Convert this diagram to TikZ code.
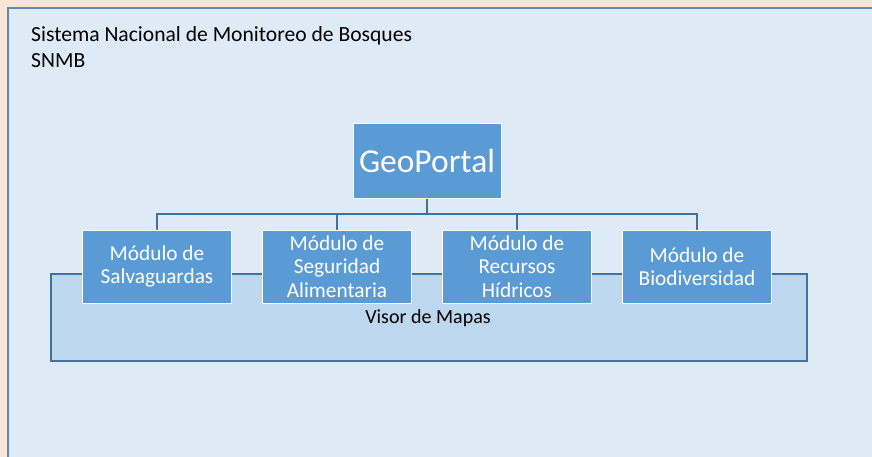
\documentclass[tikz,border=0pt]{standalone}
\usepackage{fontspec}
\setmainfont{Carlito}
\usepackage{tikz}
\usetikzlibrary{trees}
\definecolor{durazno}{HTML}{FBE5D6}
\definecolor{fondo}{HTML}{DEEBF7}
\definecolor{borde}{HTML}{5A89C2}
\definecolor{caja}{HTML}{5B9BD5}
\definecolor{visorfill}{HTML}{BDD7EE}
\definecolor{linea}{HTML}{41719C}
\tikzstyle{modulo}=[draw=white,line width=1pt,fill=caja,text=white,minimum width=149pt,minimum height=73pt,inner sep=1pt,align=center,font=\fontsize{21.3}{23.3}\selectfont]
\tikzstyle{portal}=[modulo,minimum width=148pt,minimum height=74pt,font=\fontsize{33.5}{38}\selectfont]

\begin{document}
\begin{tikzpicture}[x=1pt,y=1pt,level distance=105.5pt,sibling distance=180pt,
  edge from parent/.style={draw=linea,line width=1.2pt},
  edge from parent path={(\tikzparentnode.south) -- +(0,-15.5) -| (\tikzchildnode.north)}]
\tikzstyle{visor}=[draw=linea,line width=1.5pt,fill=visorfill,minimum width=756pt,minimum height=87pt]
\tikzstyle{texto}=[inner sep=0pt,align=left,font=\fontsize{21.6}{25.5}\selectfont]
\useasboundingbox[fill=durazno] (0,0) rectangle (872,-457);
\fill[fondo] (8,-8) rectangle (880,-465);
\draw[borde,line width=1.5pt] (8,-465) -- (8,-8) -- (880,-8);

\node [texto,anchor=north west] (titulo) at (31,-26.5) {Sistema Nacional de Monitoreo de Bosques\\SNMB};

\node [visor] (visor) at (429,-317.5) {};
\node [texto,font=\fontsize{20}{24}\selectfont,anchor=base] (mapas) at (428,-323) {Visor de Mapas};

    \node [portal] (geo) at (427,-161) {GeoPortal}
  child {
	    node [modulo] (salv) {Módulo de\\Salvaguardas}
  } child {
	    node [modulo] (segu) {Módulo de\\Seguridad\\Alimentaria}
  } child {
	    node [modulo] (recu) {Módulo de\\Recursos\\Hídricos}
  } child {
	    node [modulo] (biod) {Módulo de\\Biodiversidad}
  };
\end{tikzpicture}
\end{document}
